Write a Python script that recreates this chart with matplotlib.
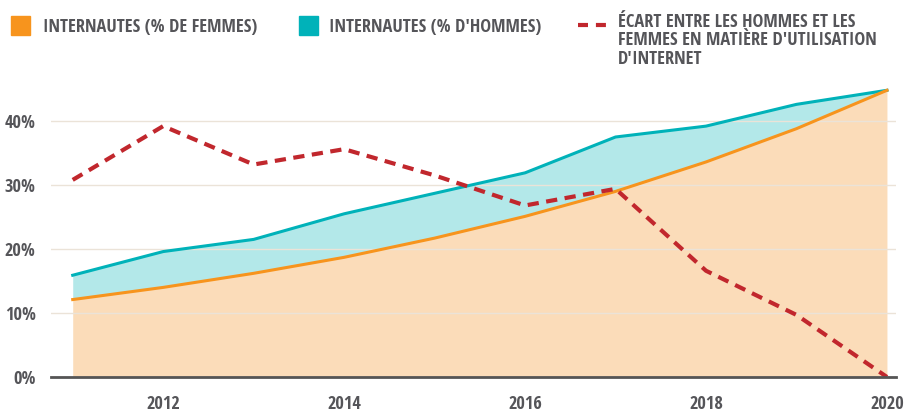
import numpy as np
import matplotlib.pyplot as plt
from matplotlib.patches import Rectangle
from matplotlib.lines import Line2D

plt.rcParams['font.family'] = ['Open Sans Condensed', 'DejaVu Sans']
plt.rcParams['font.weight'] = 'bold'

years = [2011, 2012, 2013, 2014, 2015, 2016, 2017, 2018, 2019, 2020]
femmes = [12.1, 14.0, 16.2, 18.7, 21.7, 25.1, 29.0, 33.6, 38.8, 44.8]
hommes = [15.9, 19.6, 21.5, 25.5, 28.7, 31.9, 37.5, 39.2, 42.6, 44.8]
ecart = [30.8, 39.2, 33.2, 35.6, 31.5, 26.8, 29.4, 16.6, 9.7, 0.0]

xticks = [2012, 2014, 2016, 2018, 2020]
yticks = [0, 10, 20, 30, 40]

col_f = '#f7941d'
col_h = '#00b2b9'
col_e = '#c1272d'
txt = '#555559'
fs = 13.2

fig = plt.figure(figsize=(9.05, 4.09), dpi=100)
W, H = 905, 409
ax = fig.add_axes([51 / W, 32 / H, 845 / W, 294.4 / H])

ax.fill_between(years, 0, femmes, color='#fbdcb9', lw=0, zorder=1)
ax.fill_between(years, femmes, hommes, color='#b3e8e9', lw=0, zorder=1)
ax.plot(years, hommes, color=col_h, lw=2.2, zorder=3)
ax.plot(years, femmes, color=col_f, lw=2.2, zorder=3)
ax.plot(years, ecart, color=col_e, lw=3, ls=(0, (2.7, 1.8)), zorder=4)

ax.set_xlim(2010.76, 2020.1)
ax.set_ylim(0, 46)
ax.set_yticks(yticks)
ax.set_yticklabels([f'{v}%' for v in yticks])
ax.set_xticks(xticks)
ax.set_xticklabels([str(v) for v in xticks])
ax.grid(axis='y', color='#ebe3d8', lw=1, zorder=2)
ax.set_axisbelow(False)
for s in ['top', 'right', 'left']:
    ax.spines[s].set_visible(False)
ax.spines['bottom'].set_color('#555555')
ax.spines['bottom'].set_linewidth(2)
ax.spines['bottom'].set_zorder(5)
ax.tick_params(length=0, labelsize=fs, labelcolor=txt)
ax.tick_params(axis='x', pad=13)
ax.tick_params(axis='y', pad=11)
for lab in ax.get_xticklabels() + ax.get_yticklabels():
    lab.set_fontweight('bold')

# legend
fig.patches.append(Rectangle((11 / W, 1 - 35 / H), 19 / W, 19 / H,
                             transform=fig.transFigure, color=col_f))
fig.text(43 / W, 1 - 27 / H, 'INTERNAUTES (% DE FEMMES)', color=txt,
         fontsize=fs, fontweight='bold', va='center')
fig.patches.append(Rectangle((299 / W, 1 - 35 / H), 19 / W, 19 / H,
                             transform=fig.transFigure, color=col_h))
fig.text(329 / W, 1 - 27 / H, "INTERNAUTES (% D'HOMMES)", color=txt,
         fontsize=fs, fontweight='bold', va='center')
fig.lines.append(Line2D([578 / W, 606 / W], [1 - 25 / H, 1 - 25 / H],
                        transform=fig.transFigure, color=col_e, lw=3,
                        ls=(0, (2.4, 1.9))))
fig.text(618 / W, 1 - 13 / H,
         "ÉCART ENTRE LES HOMMES ET LES\nFEMMES EN MATIÈRE D'UTILISATION\nD'INTERNET",
         color=txt, fontsize=fs, fontweight='bold', va='top', linespacing=1.03)

fig.savefig('out.png', dpi=100)
